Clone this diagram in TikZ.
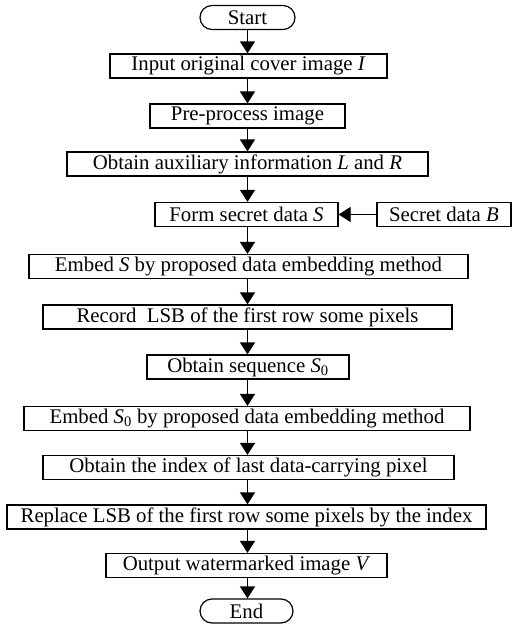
\documentclass[tikz,border=0pt]{standalone}
\usepackage{fontspec}
\setmainfont{Liberation Serif}
\usetikzlibrary{arrows.meta}

\tikzset{
  every node/.style={font=\fontsize{20.8}{24}\selectfont, inner sep=0pt},
  procbox/.style={draw, line width=1.2pt, minimum height=24pt},
  termbox/.style={draw, line width=1.2pt, rounded corners=12pt, minimum height=24pt},
  flow/.style={line width=1.2pt, -{Triangle[length=12pt,width=15pt]}},
}

\begin{document}
\begin{tikzpicture}[x=1pt,y=-1pt]
\useasboundingbox (0,0) rectangle (515,625);

% main column, spine at x = 247.5
\node[termbox, minimum width=95pt]  (start) at (247.5,17.5) {Start};
\node[procbox, minimum width=277pt] (input) at (248.5,66)   {Input original cover image \textit{I}};
\node[procbox, minimum width=195pt] (pre)   at (247.5,116)  {Pre-process image};
\node[procbox, minimum width=361pt] (aux)   at (247.5,164)  {Obtain auxiliary information \textit{L} and \textit{R}};
\node[procbox, minimum width=183pt] (form)  at (246.5,214.5){Form secret data \textit{S}};
\node[procbox, minimum width=134pt] (secb)  at (444,214.5)  {Secret data \textit{B}};
\node[procbox, minimum width=439pt] (embs)  at (248.5,266.5){Embed \textit{S} by proposed data embedding method};
\node[procbox, minimum width=409pt] (rec)   at (247.5,317)  {Record\ \ LSB of the first row some pixels};
\node[procbox, minimum width=202pt] (seq)   at (248,367)    {Obtain sequence \textit{S}\textsubscript{0}};
\node[procbox, minimum width=446pt] (embz)  at (247,418.5)  {Embed \textit{S}\textsubscript{0} by proposed data embedding method};
\node[procbox, minimum width=411pt] (idx)   at (248.5,467.5){Obtain the index of last data-carrying pixel};
\node[procbox, minimum width=479pt] (rep)   at (246.5,517)  {Replace LSB of the first row some pixels by the index};
\node[procbox, minimum width=281pt] (out)   at (246.5,565.5){Output watermarked image \textit{V}};
\node[termbox, minimum width=93pt]  (end)   at (246.5,611)  {End};

% connectors along the spine
\coordinate (sp) at (247.5,0);
\foreach \a/\b in {start/input,input/pre,pre/aux,aux/form,form/embs,embs/rec,rec/seq,seq/embz,embz/idx,idx/rep,rep/out,out/end}
  \draw[flow] (\a.south -| sp) -- (\b.north -| sp);

% side input
\draw[flow] (secb.west) -- (form.east);
\end{tikzpicture}
\end{document}
